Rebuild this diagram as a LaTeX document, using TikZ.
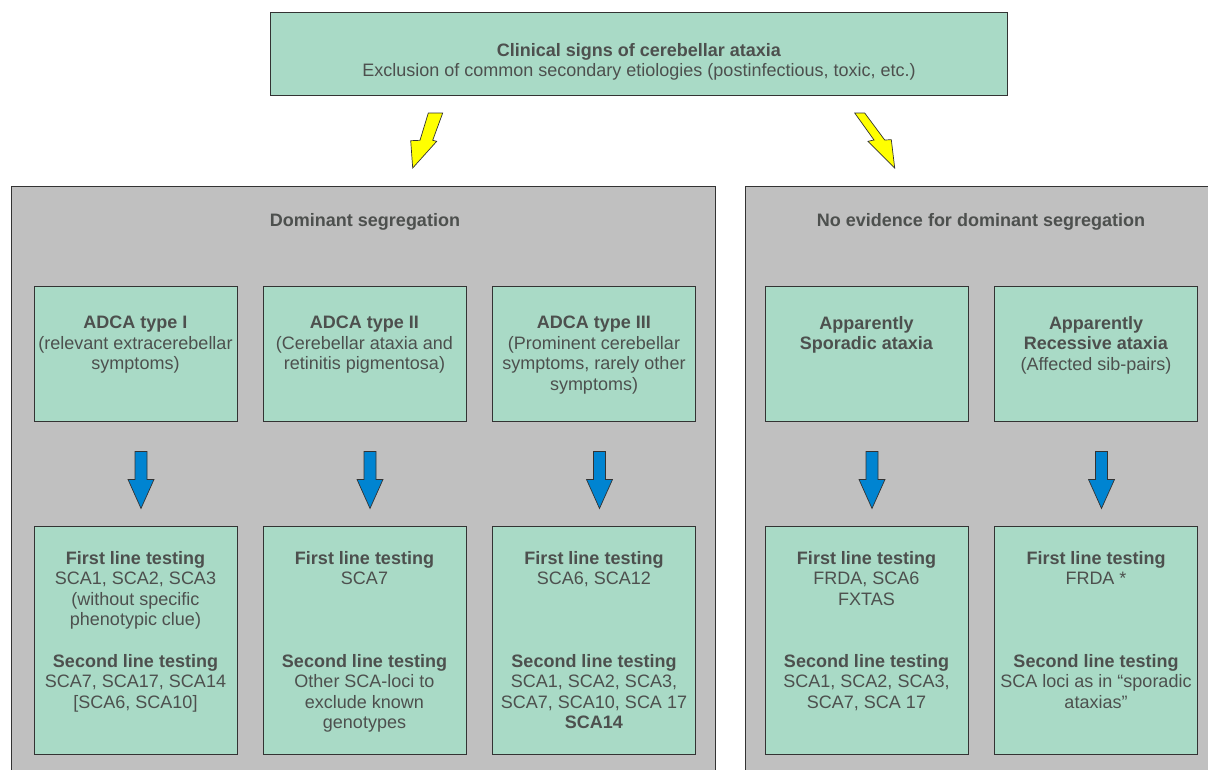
\documentclass[tikz,border=0pt]{standalone}
\usepackage{fontspec}
\setmainfont{Liberation Sans}
\usetikzlibrary{calc}
\definecolor{boxgreen}{RGB}{169,218,198}
\definecolor{panelgray}{RGB}{192,192,192}
\definecolor{txtcol}{RGB}{77,80,78}
\definecolor{arrowblue}{RGB}{0,132,209}
\definecolor{edgecol}{RGB}{51,51,51}
\definecolor{arrowyellow}{RGB}{255,255,0}
\begin{document}
\begin{tikzpicture}[x=1pt,y=-1pt,
  greenbox/.style={draw=edgecol, fill=boxgreen, line width=0.9pt, inner sep=0pt, minimum width=203pt},
  rowone/.style={greenbox, minimum height=135pt},
  rowtwo/.style={greenbox, minimum height=228pt},
  panel/.style={draw=edgecol, fill=panelgray, line width=0.9pt, inner sep=0pt, anchor=north west},
  txt/.style={text=txtcol, align=center, inner sep=0pt, anchor=north, font=\fontsize{18}{20.5}\selectfont},
  bluearr/.pic={\draw[fill=arrowblue, draw=edgecol, line width=0.7pt, line join=miter]
     (-6,0) -- (6,0) -- (6,28) -- (13,28) -- (0,57) -- (-13,28) -- (-6,28) -- cycle;},
  yellowarr/.style={fill=arrowyellow, draw=edgecol, line width=0.7pt, line join=miter}
]
\useasboundingbox (0,0) rectangle (1208,769);
\clip (0,0) rectangle (1208,769);

% top box
\node[greenbox, minimum width=737pt, minimum height=83pt] (top) at (638.5,53.5) {};
\node[txt] (toptxt) at (639,43) {\textbf{Clinical signs of cerebellar ataxia}\\Exclusion of common secondary etiologies (postinfectious, toxic, etc.)};

% yellow arrows
\draw[yellowarr] (428.3,113) -- (442.7,113) -- (432.7,140.3) -- (436.7,141.3) -- (412.7,168) -- (410.7,140.7) -- (420,140.3) -- cycle;
\draw[yellowarr] (854.7,113) -- (864.7,113) -- (884.7,140) -- (891.3,139.7) -- (894.7,168) -- (868,141.3) -- (874,140) -- cycle;

% panels
\node[panel, minimum width=704pt, minimum height=620pt] (lpanel) at (11,186) {};
\node[panel, minimum width=480pt, minimum height=620pt] (rpanel) at (745,186) {};
\node[txt] (lhead) at (365,213) {\textbf{Dominant segregation}};
\node[txt] (rhead) at (981,213) {\textbf{No evidence for dominant segregation}};

% row one boxes
\node[rowone] (a1) at (135.5,353.5) {};
\node[rowone] (a2) at (364.5,353.5) {};
\node[rowone] (a3) at (594,353.5) {};
\node[rowone] (a4) at (866.5,353.5) {};
\node[rowone] (a5) at (1096,353.5) {};

\node[txt] (a1t) at (135.5,316) {\textbf{ADCA type I}\\(relevant extracerebellar\\symptoms)};
\node[txt] (a2t) at (364.5,316) {\textbf{ADCA type II}\\(Cerebellar ataxia and\\retinitis pigmentosa)};
\node[txt] (a3t) at (594,316) {\textbf{ADCA type III}\\(Prominent cerebellar\\symptoms, rarely other\\symptoms)};
\node[txt] (a4t) at (866.5,316) {\textbf{Apparently}\\\textbf{Sporadic ataxia}};
\node[txt] (a5t) at (1096,316) {\textbf{Apparently}\\\textbf{Recessive ataxia}\\(Affected sib-pairs)};

% row two boxes
\node[rowtwo] (b1) at (135.5,640) {};
\node[rowtwo] (b2) at (364.5,640) {};
\node[rowtwo] (b3) at (594,640) {};
\node[rowtwo] (b4) at (866.5,640) {};
\node[rowtwo] (b5) at (1096,640) {};

\node[txt] (b1f) at (135.5,551) {\textbf{First line testing}\\SCA1, SCA2, SCA3\\(without specific\\phenotypic clue)};
\node[txt] (b1s) at (135.5,654) {\textbf{Second line testing}\\SCA7, SCA17, SCA14\\{[SCA6, SCA10]}};
\node[txt] (b2f) at (364.5,551) {\textbf{First line testing}\\SCA7};
\node[txt] (b2s) at (364.5,654) {\textbf{Second line testing}\\Other SCA-loci to\\exclude known\\genotypes};
\node[txt] (b3f) at (594,551) {\textbf{First line testing}\\SCA6, SCA12};
\node[txt] (b3s) at (594,654) {\textbf{Second line testing}\\SCA1, SCA2, SCA3,\\SCA7, SCA10, SCA 17\\\textbf{SCA14}};
\node[txt] (b4f) at (866.5,551) {\textbf{First line testing}\\FRDA, SCA6\\FXTAS};
\node[txt] (b4s) at (866.5,654) {\textbf{Second line testing}\\SCA1, SCA2, SCA3,\\SCA7, SCA 17};
\node[txt] (b5f) at (1096,551) {\textbf{First line testing}\\FRDA *};
\node[txt] (b5s) at (1096,654) {\textbf{Second line testing}\\SCA loci as in “sporadic\\ataxias”};

% blue arrows
\foreach \i in {1,...,5} {
  \pic at ($(a\i.south)+(5.5,30)$) {bluearr};
}
\end{tikzpicture}
\end{document}
